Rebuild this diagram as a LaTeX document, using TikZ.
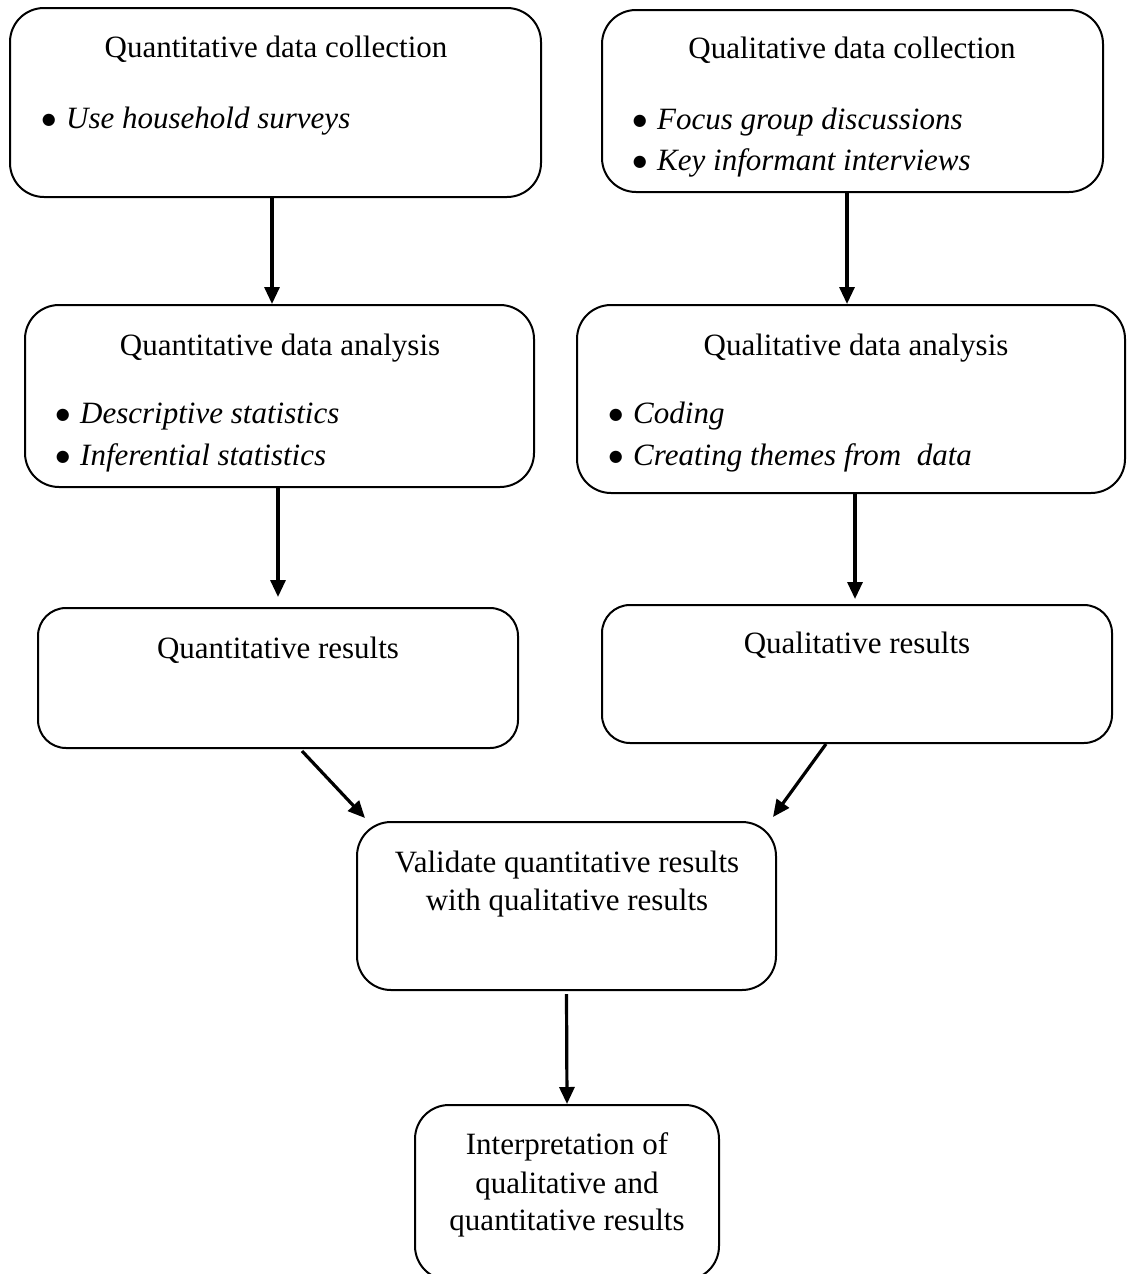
\documentclass[tikz,border=0pt]{standalone}
\usepackage{fontspec}
\setmainfont{Liberation Serif}
\newfontfamily\symfont{DejaVu Sans}
\usetikzlibrary{arrows.meta}
\newcommand{\bigdot}{\raisebox{4pt}{\fontsize{16}{16}\selectfont\symfont ●}}
\begin{document}
\begin{tikzpicture}[x=1pt,y=-1pt,
  box/.style 2 args={draw, line width=2pt, rounded corners=34pt,
    minimum width=#1pt, minimum height=#2pt, inner sep=0pt},
  txt/.style={font=\fontsize{31}{38}\selectfont, inner sep=0pt, anchor=base},
  itm/.style={txt, anchor=base west, font=\fontsize{31}{38}\selectfont\itshape},
  dot/.style={inner sep=0pt, anchor=base east},
  arr/.style={line width=3.2pt, -{Triangle[length=17pt,width=15pt]}}]
\useasboundingbox (0,0) rectangle (1127,1274);

% left column: quantitative strand
\node[box={531}{189}] (qnc) at (275.5,102.5) {};
\node[txt] (qnct) at (276,57) {Quantitative data collection};
\node[dot] (qncb1) at (56,128) {\bigdot};
\node[itm] (qnci1) at (66,128) {Use household surveys};

\node[box={509}{182}] (qna) at (279.5,396) {};
\node[txt] (qnat) at (280,355) {Quantitative data analysis};
\node[dot] (qnab1) at (70,423) {\bigdot};
\node[itm] (qnai1) at (80,423) {Descriptive statistics};
\node[dot] (qnab2) at (70,465) {\bigdot};
\node[itm] (qnai2) at (80,465) {Inferential statistics};

\node[box={480}{140}, rounded corners=28pt] (qnr) at (278,678) {};
\node[txt] (qnrt) at (278,658) {Quantitative results};

% right column: qualitative strand
\node[box={501}{182}] (qlc) at (852.5,101) {};
\node[txt] (qlct) at (852,58) {Qualitative data collection};
\node[dot] (qlcb1) at (647,129) {\bigdot};
\node[itm] (qlci1) at (657,129) {Focus group discussions};
\node[dot] (qlcb2) at (647,170) {\bigdot};
\node[itm] (qlci2) at (657,170) {Key informant interviews};

\node[box={548}{188}] (qla) at (851,399) {};
\node[txt] (qlat) at (856,355) {Qualitative data analysis};
\node[dot] (qlab1) at (623,423) {\bigdot};
\node[itm] (qlai1) at (633,423) {Coding};
\node[dot] (qlab2) at (623,465) {\bigdot};
\node[itm] (qlai2) at (633,465) {Creating themes from\ \ data};

\node[box={510}{138}, rounded corners=28pt] (qlr) at (857,674) {};
\node[txt] (qlrt) at (857,653) {Qualitative results};

% merged steps
\node[box={419}{168}] (val) at (566.5,906) {};
\node[txt] (valt1) at (567,872) {Validate quantitative results};
\node[txt] (valt2) at (567,910) {with qualitative results};

\node[box={304}{175}] (int) at (567,1192.5) {};
\node[txt] (intt1) at (567,1154) {Interpretation of};
\node[txt] (intt2) at (567,1193) {qualitative and};
\node[txt] (intt3) at (567,1230) {quantitative results};

% connectors
\draw[arr] ([xshift=-3.5pt]qnc.south) -- ([xshift=-7.5pt]qna.north);
\draw[arr] ([xshift=-1.5pt]qna.south) -- ([yshift=10pt]qnr.north);
\draw[arr] ([xshift=-5.5pt]qlc.south) -- ([xshift=-4pt]qla.north);
\draw[arr] ([xshift=4pt]qla.south) -- ([xshift=-2pt,yshift=5pt]qlr.north);
\draw[arr] ([xshift=24pt,yshift=-2pt]qnr.south) -- ([xshift=9pt,yshift=3pt]val.north west);
\draw[arr] ([xshift=-31pt]qlr.south) -- ([xshift=-4pt,yshift=4pt]val.north east);
\draw[arr] ([yshift=-3pt]val.south) -- (int.north);
\end{tikzpicture}
\end{document}
